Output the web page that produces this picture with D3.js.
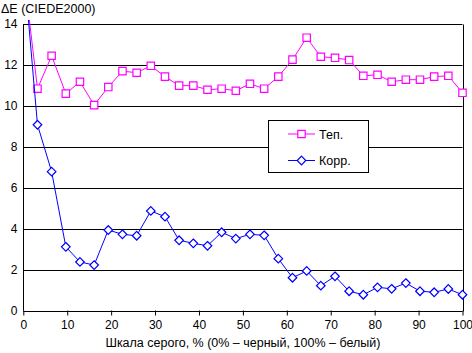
<!DOCTYPE html>
<html><head><meta charset="utf-8">
<script src="https://cdn.jsdelivr.net/npm/d3@7"></script>
<style>body{margin:0;background:#fff}svg{display:block}text{font-family:"Liberation Sans",Arial,sans-serif}</style>
</head><body>
<svg id="c" width="472" height="353"></svg>
<script>
const xValues = [0,3.23,6.45,9.68,12.9,16.13,19.35,22.58,25.81,29.03,32.26,35.48,38.71,41.94,45.16,48.39,51.61,54.84,58.06,61.29,64.52,67.74,70.97,74.19,77.42,80.65,83.87,87.1,90.32,93.55,96.77,100];
const tepValues = [16.7,10.84,12.45,10.6,11.18,10.04,10.92,11.7,11.62,11.96,11.43,10.99,10.99,10.79,10.84,10.74,11.08,10.84,11.43,12.26,13.33,12.4,12.35,12.24,11.47,11.52,11.18,11.28,11.28,11.43,11.47,10.64];
const korrValues = [17.1,9.08,6.79,3.12,2.38,2.23,3.94,3.73,3.66,4.87,4.59,3.44,3.29,3.17,3.83,3.52,3.73,3.68,2.54,1.61,1.94,1.22,1.68,0.95,0.78,1.14,1.07,1.35,0.95,0.9,1.06,0.78];
const seriesNames = ["Теп.","Корр."];
const xTicks = [0,10,20,30,40,50,60,70,80,90,100];
const yTicks = [0,2,4,6,8,10,12,14];
const yTitle = "ΔE (CIEDE2000)";
const xTitle = "Шкала серого, % (0% – черный, 100% – белый)";

const svg = d3.select("#c");
const L=23.3, R=462.5, T=24, B=310.7;
const x = d3.scaleLinear().domain([0,100]).range([L,R]);
const y = d3.scaleLinear().domain([0,14]).range([B,T]);

// gridlines
svg.append("g").selectAll("line").data(yTicks.filter(d=>d>0)).join("line")
  .attr("x1",L).attr("x2",R).attr("y1",d=>Math.round(y(d))+0.5).attr("y2",d=>Math.round(y(d))+0.5)
  .attr("stroke","#000").attr("stroke-width",1);
// right border
svg.append("line").attr("x1",Math.round(R)+0.5).attr("x2",Math.round(R)+0.5).attr("y1",Math.round(T)+0.5).attr("y2",Math.round(B)+0.5).attr("stroke","#000");

// axes
const xAxis = d3.axisBottom(x).tickValues(xTicks).tickSize(4).tickFormat(d3.format("d"));
const gx = svg.append("g").attr("transform",`translate(0,${Math.round(B)+0.5})`).call(xAxis);
gx.select(".domain").attr("stroke","#000").attr("d",`M${L},0H${R}`);
gx.selectAll(".tick line").attr("stroke","#000").attr("y1",-1).attr("y2",4);
gx.selectAll(".tick text").attr("font-size",12).attr("fill","#000").attr("dy","1.05em").attr("y",5);

const yAxis = d3.axisLeft(y).tickValues(yTicks).tickSize(0).tickFormat(d3.format("d"));
const gy = svg.append("g").attr("transform",`translate(${Math.round(L)+0.5},0)`).call(yAxis);
gy.select(".domain").attr("stroke","#000").attr("d",`M0,${T}V${B}`);
gy.selectAll(".tick text").attr("font-size",12).attr("fill","#000").attr("x",-6);

svg.append("defs").append("clipPath").attr("id","clip").append("rect")
  .attr("x",L).attr("y",20).attr("width",R-L+6).attr("height",B-20+6);

const plot = svg.append("g").attr("clip-path","url(#clip)");
const line = d3.line().x((d,i)=>x(xValues[i])).y(d=>y(d));

const sq = "M-3.7,-3.7H3.7V3.7H-3.7Z";
const dm = "M0,-4.3L4.3,0L0,4.3L-4.3,0Z";

function drawSeries(vals,color,path){
  plot.append("path").datum(vals).attr("d",line).attr("fill","none").attr("stroke",color).attr("stroke-width",1);
  plot.append("g").selectAll("path").data(vals).join("path")
    .attr("d",path).attr("transform",(d,i)=>`translate(${x(xValues[i])},${y(d)})`)
    .attr("fill","#fff").attr("stroke",color).attr("stroke-width",1.2);
}
drawSeries(tepValues,"#ff00ff",sq);
drawSeries(korrValues,"#0000ff",dm);

// titles
svg.append("text").attr("x",1).attr("y",13).attr("font-size",12.5).text(yTitle);
svg.append("text").attr("x",(L+R)/2).attr("y",347).attr("text-anchor","middle").attr("font-size",12.5).text(xTitle);

// legend
const lg = svg.append("g");
lg.append("rect").attr("x",268.5).attr("y",120.5).attr("width",100).attr("height",52).attr("fill","#fff").attr("stroke","#000");
const leg = [{n:seriesNames[0],c:"#ff00ff",p:sq,y:134},{n:seriesNames[1],c:"#0000ff",p:dm,y:160.5}];
leg.forEach(d=>{
  lg.append("line").attr("x1",288).attr("x2",315).attr("y1",d.y).attr("y2",d.y).attr("stroke",d.c);
  lg.append("path").attr("d",d.p).attr("transform",`translate(301.5,${d.y})`).attr("fill","#fff").attr("stroke",d.c).attr("stroke-width",1.2);
  lg.append("text").attr("x",319).attr("y",d.y+4.5).attr("font-size",12.5).text(d.n);
});
</script>
</body></html>
